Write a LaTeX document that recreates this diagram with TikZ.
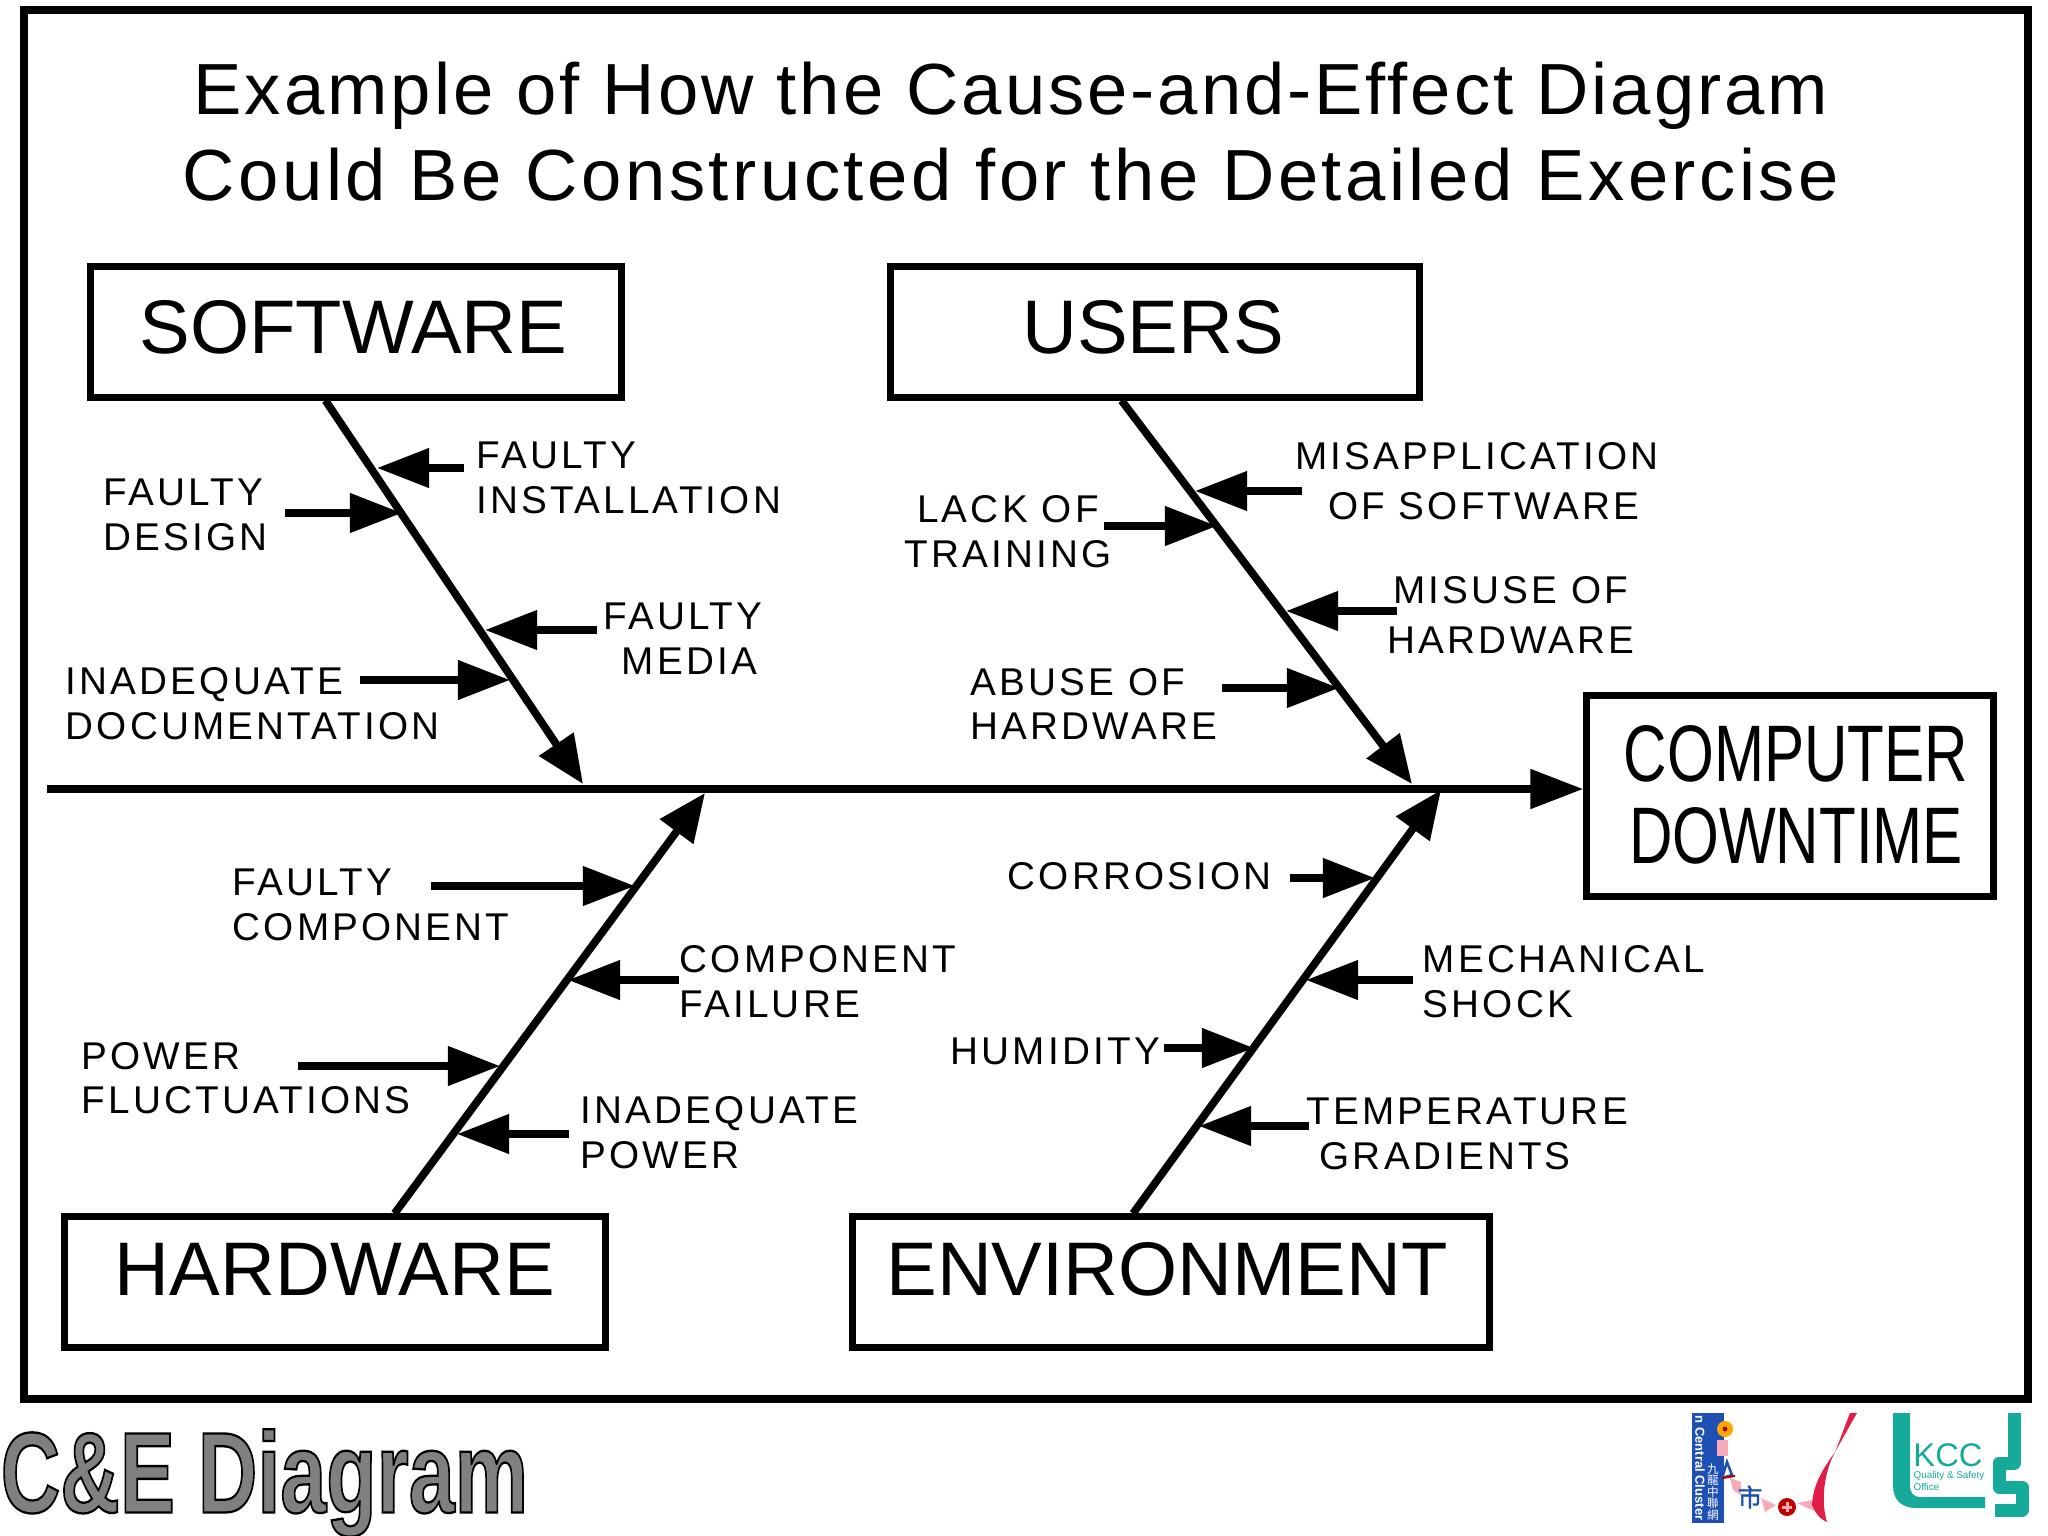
\documentclass[tikz,border=0pt]{standalone}
\usepackage{fontspec}
\setmainfont{Liberation Sans}
\newfontfamily\spacedfont[LetterSpace=8.2]{Liberation Sans}
\newfontfamily\titlefont[LetterSpace=4.1]{Liberation Sans}
\newfontfamily\titlewidefont[LetterSpace=4.9]{Liberation Sans}
\newfontfamily\cjkfont{Noto Sans CJK TC}
\newfontfamily\cjkheavyfont[FakeBold=1.5]{Noto Sans CJK TC}
\newfontfamily\strokefont[FakeBold=2]{Liberation Sans Bold}
\usetikzlibrary{arrows.meta}
\definecolor{kccteal}{RGB}{22,170,155}
\definecolor{clusterblue}{RGB}{30,80,180}
\definecolor{swooshred}{RGB}{225,30,70}
\definecolor{softpink}{RGB}{248,170,185}

\begin{document}
\begin{tikzpicture}[
    x=0.01cm, y=-0.01cm,
    catbox/.style={draw, line width=0.07cm, minimum width=#1, minimum height=1.3cm,
                   inner sep=0pt, font=\fontsize{21.6}{24}\selectfont},
    causelabel/.style={inner sep=0pt, align=left, anchor=west,
                       font=\spacedfont\fontsize{11}{12.7}\selectfont},
    causecentre/.style={causelabel, align=center, anchor=center},
    bone/.style={-{Triangle[length=0.48cm, width=0.40cm]}, line width=0.078cm},
    twig/.style={-{Triangle[length=0.52cm, width=0.38cm]}, line width=0.075cm},
]
\useasboundingbox (0,0) rectangle (2048,1536);

% Frame
\draw[line width=0.075cm] (24,10) rectangle (2028,1399);

% Title
\node[inner sep=0pt, align=center, font=\fontsize{20.6}{24.5}\selectfont] (title)
    at (1011,132) {\titlefont Example of How the Cause-and-Effect Diagram\\
                   \titlewidefont Could Be Constructed for the Detailed Exercise};

% Category boxes
\node[catbox=5.31cm] (software) at (356,332) {\raisebox{0.10cm}{SOFTWARE}\hspace*{0.05cm}};
\node[catbox=5.29cm] (users) at (1155,332) {\raisebox{0.10cm}{USERS}\hspace*{0.04cm}};
\node[catbox=5.40cm] (hardware) at (335,1282) {\raisebox{0.26cm}{HARDWARE}};
\node[catbox=6.36cm] (environment) at (1171,1282) {\raisebox{0.26cm}{ENVIRONMENT}\hspace*{0.08cm}};

% Effect box
\node[draw, line width=0.07cm, minimum width=4.06cm, minimum height=2.01cm, inner sep=0pt,
      align=center, font=\fontsize{22.8}{23.5}\selectfont] (downtime) at (1790,796)
    {\hspace*{0.12cm}\raisebox{0.03cm}{\scalebox{0.75}[1]{COMPUTER}}\\
     \hspace*{0.12cm}\raisebox{0.03cm}{\scalebox{0.75}[1]{DOWNTIME}}};

% Spine
\coordinate (tail) at (47,789);
\draw[-{Triangle[length=0.53cm, width=0.38cm]}, line width=0.08cm] (tail) -- (tail -| downtime.west);

% Bones
\coordinate (softwaretip) at (583,784);
\coordinate (userstip) at (1412,784);
\coordinate (hardwaretip) at (705,793);
\coordinate (environmenttip) at (1441,790);
\draw[bone] (software.-114) -- (softwaretip);
\draw[bone] (users.-116) -- (userstip);
\draw[bone] (hardware.49) -- (hardwaretip);
\draw[bone] (environment.119) -- (environmenttip);

% Software causes
\coordinate (a1) at (464,468); \coordinate (a2) at (377,468);
\coordinate (b1) at (285,513); \coordinate (b2) at (402,513);
\coordinate (c1) at (597,630); \coordinate (c2) at (485,630);
\coordinate (d1) at (360,680); \coordinate (d2) at (510,680);
\draw[twig] (a1) -- (a2);
\draw[twig] (b1) -- (b2);
\draw[twig] (c1) -- (c2);
\draw[twig] (d1) -- (d2);
\node[causelabel] (install) at (476,478) {FAULTY\\INSTALLATION};
\node[causelabel] (design) at (103,515) {FAULTY\\DESIGN};
\node[causecentre] (media) at (683,639) {FAULTY\\\hspace*{0.13cm}MEDIA};
\node[causelabel] (docs) at (65,704) {INADEQUATE\\DOCUMENTATION};

% User causes
\coordinate (e1) at (1302,491); \coordinate (e2) at (1195,491);
\coordinate (f1) at (1104,526); \coordinate (f2) at (1217,526);
\coordinate (g1) at (1397,611); \coordinate (g2) at (1286,611);
\coordinate (h1) at (1222,688); \coordinate (h2) at (1339,688);
\draw[twig] (e1) -- (e2);
\draw[twig] (f1) -- (f2);
\draw[twig] (g1) -- (g2);
\draw[twig] (h1) -- (h2);
\node[causecentre, font=\spacedfont\fontsize{11}{14.4}\selectfont] (misapply) at (1477,481) {MISAPPLICATION\\\hspace*{0.13cm}OF SOFTWARE};
\node[causecentre] (training) at (1008,532) {LACK OF\\TRAINING};
\node[causecentre, font=\spacedfont\fontsize{11}{14.4}\selectfont] (misuse) at (1511,615) {MISUSE OF\\HARDWARE};
\node[causelabel] (abuse) at (970,704) {ABUSE OF\\HARDWARE};

% Hardware causes
\coordinate (i1) at (431,886); \coordinate (i2) at (635,886);
\coordinate (j1) at (679,980); \coordinate (j2) at (568,980);
\coordinate (k1) at (298,1066); \coordinate (k2) at (500,1066);
\coordinate (l1) at (569,1134); \coordinate (l2) at (457,1134);
\draw[twig] (i1) -- (i2);
\draw[twig] (j1) -- (j2);
\draw[twig] (k1) -- (k2);
\draw[twig] (l1) -- (l2);
\node[causelabel] (component) at (232,905) {FAULTY\\COMPONENT};
\node[causelabel] (failure) at (679,982) {COMPONENT\\FAILURE};
\node[causelabel] (power) at (81,1078) {POWER\\FLUCTUATIONS};
\node[causelabel] (inadequate) at (580,1133) {INADEQUATE\\POWER};

% Environment causes
\coordinate (m1) at (1290,878); \coordinate (m2) at (1375,878);
\coordinate (n1) at (1413,980); \coordinate (n2) at (1306,980);
\coordinate (o1) at (1164,1048); \coordinate (o2) at (1254,1048);
\coordinate (p1) at (1309,1126); \coordinate (p2) at (1199,1126);
\draw[twig] (m1) -- (m2);
\draw[twig] (n1) -- (n2);
\draw[twig] (o1) -- (o2);
\draw[twig] (p1) -- (p2);
\node[causelabel] (corrosion) at (1007,876) {CORROSION};
\node[causelabel] (shock) at (1422,982) {MECHANICAL\\SHOCK};
\node[causelabel] (humidity) at (950,1051) {HUMIDITY};
\node[causelabel] (gradients) at (1306,1134) {TEMPERATURE\\\hspace{0.13cm}GRADIENTS};

% Slide caption
\node[inner sep=0pt, anchor=west] (caption) at (0,1483)
    {\scalebox{0.72}[1]{\strokefont\fontsize{32.6}{34}\selectfont\color{black!50}\special{pdf:code 0 0 0 RG}C\&E Diagram}};

% Cluster logo
\fill[clusterblue] (1692,1413) rectangle (1724,1523);
\node[inner sep=0pt, rotate=-90, text=white, font=\bfseries\fontsize{3.7}{5}\selectfont] (cluster) at (1700,1468) {n Central Cluster};
\node[inner sep=0pt, align=center, text=white, font=\cjkfont\fontsize{3.3}{3.3}\selectfont] (chinese) at (1713,1492) {九\\龍\\中\\聯\\網};
\fill[orange!70!yellow] (1725,1429) circle (8);
\fill[red!70!black] (1725,1429) circle (2.5);
\fill[softpink] (1717,1440) rectangle (1728,1456);
\fill[softpink] (1730,1478) -- (1741,1482) -- (1741,1495) -- (1733,1490) -- cycle;
\fill[softpink] (1761,1498) -- (1776,1505) -- (1765,1512) -- cycle;
\fill[softpink] (1797,1503) -- (1812,1500) -- (1814,1511) -- cycle;
\draw[clusterblue, line width=0.025cm] (1727,1462) -- (1732,1475) -- (1722,1478) -- cycle;
\draw[red!70!black, line width=0.02cm] (1722,1478) -- (1735,1476);
\node[inner sep=0pt, text=clusterblue, font=\cjkheavyfont\fontsize{7}{8}\selectfont] (figure) at (1750,1497) {市};
\fill[red!75!black] (1787,1507) circle (9);
\draw[softpink, line width=0.03cm] (1782,1507) -- (1792,1507) (1787,1502) -- (1787,1512);
\fill[swooshred] (1857,1413) -- (1850,1413) .. controls (1845,1425) and (1840,1440) .. (1835,1452)
    .. controls (1822,1470) and (1813,1485) .. (1812,1505)
    .. controls (1816,1515) and (1822,1520) .. (1827,1522)
    .. controls (1820,1500) and (1825,1470) .. (1835,1452)
    .. controls (1843,1438) and (1850,1425) .. (1857,1413) -- cycle;

% KCC logo
\fill[kccteal] (1893,1413) -- (1910,1413) -- (1910,1485) .. controls (1910,1493) and (1913,1497) .. (1921,1497)
    -- (1985,1497) -- (1985,1508) -- (1917,1508) .. controls (1901,1508) and (1893,1500) .. (1893,1485) -- cycle;
\draw[kccteal, line width=0.13cm, line join=round] (2014,1413) -- (2014,1463) -- (1999,1463) -- (1999,1487)
    -- (2022,1487) -- (2022,1510) -- (1995,1510);
\node[inner sep=0pt, text=kccteal, font=\fontsize{9.3}{10}\selectfont] (kcc) at (1948,1455) {KCC};
\node[inner sep=0pt, anchor=west, align=left, text=kccteal, font=\fontsize{2.8}{3.3}\selectfont] (office) at (1913,1481) {Quality \& Safety\\Office};
\end{tikzpicture}
\end{document}
